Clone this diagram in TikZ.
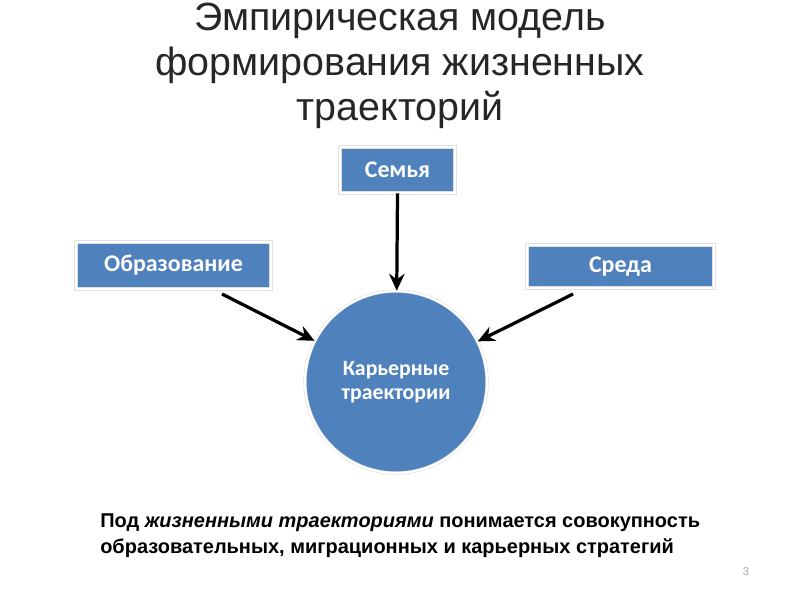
\documentclass[tikz,border=0pt]{standalone}
\usepackage{fontspec}
\setmainfont{Liberation Sans}
\newfontfamily\boxfont{Carlito}
\usetikzlibrary{arrows.meta}
\definecolor{boxblue}{HTML}{4F81BD}
\definecolor{titlegray}{HTML}{262626}
\tikzset{
  factor/.style={rectangle, fill=boxblue, draw=black!12, double=white,
    double distance=1.5pt, text=white, font=\boxfont\bfseries\fontsize{17}{19}\selectfont,
    inner sep=0pt},
  core/.style={circle, fill=boxblue, draw=black!12, double=white,
    double distance=1.5pt, text=white, align=center, inner sep=0pt,
    font=\boxfont\bfseries\fontsize{15.5}{17.5}\selectfont, minimum size=4.55cm},
  influence/.style={line width=2.3pt, -{Stealth[length=12pt, width=11pt]}}
}
\begin{document}
\begin{tikzpicture}[x=0.025cm, y=-0.025cm]
\useasboundingbox (0,0) rectangle (800,600);
% Title
\node (title) at (400,66) [align=center, text=titlegray,
  font=\fontsize{28}{32.2}\selectfont]
  {Эмпирическая модель\\формирования жизненных\\траекторий};
% Boxes and circle
\node[factor, minimum width=2.875cm, minimum height=1.15cm] (sem) at (397.5,170) {Семья};
\node[factor, minimum width=4.875cm, minimum height=1.175cm] (obr) at (173.5,265.5) {Образование};
\node[factor, minimum width=4.675cm, minimum height=1.075cm] (sre) at (620.5,266.5) {Среда};
\node[core] (car) at (396,382) {Карьерные\\траектории};
% Start points of the arrows
\coordinate (obrstart) at (222,294);
\coordinate (srestart) at (573,294);
% Draw the arrows
\draw[influence] (sem.south) -- (car);
\draw[influence] (obrstart) -- (car);
\draw[influence] (srestart) -- (car);
% Note and page number
\node (note) at (100,536) [anchor=west, align=left, inner sep=0pt,
  font=\bfseries\fontsize{14.2}{18.5}\selectfont]
  {Под \textit{жизненными траекториями} понимается совокупность\\
   образовательных, миграционных и карьерных стратегий};
\node (page) at (746,572) [text=black!35, font=\fontsize{8}{9}\selectfont] {3};
\end{tikzpicture}
\end{document}
